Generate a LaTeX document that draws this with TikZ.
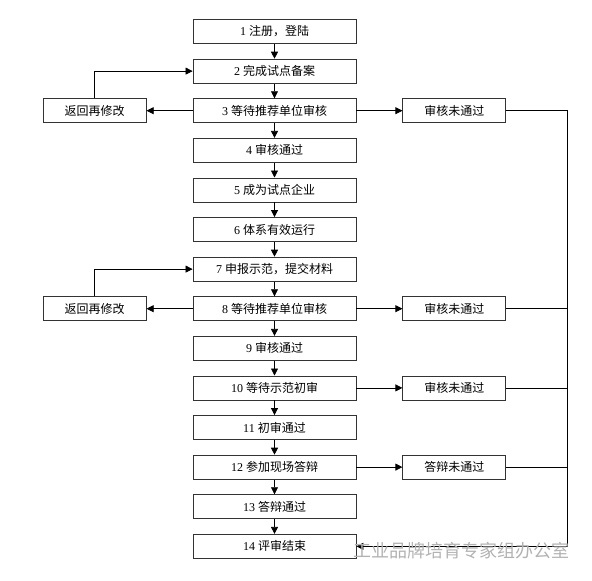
\documentclass[tikz,border=0pt]{standalone}
\usepackage{fontspec}
\setmainfont{Liberation Serif}
\newfontfamily\cjk{Noto Sans CJK SC}
\usetikzlibrary{chains,positioning,arrows.meta}

\begin{document}
\begin{tikzpicture}[x=1pt,y=1pt,
    box/.style={rectangle, draw=black!80, line width=0.8pt, minimum width=163pt,
      minimum height=24pt, inner sep=0pt, font=\fontsize{12}{14}\selectfont},
    side/.style={box, minimum width=103pt},
    >={Triangle[length=7pt,width=7pt]}, line width=0.7pt,
    start chain=going below, node distance=14.8pt and 46pt,
    every join/.style={->}]
  \useasboundingbox (0,0) rectangle (592,-581);
  \node[box,on chain] (s1) at (274.5,-31.5) {1 {\cjk 注册，登陆}};
  \node[box,on chain,join] (s2) {2 {\cjk 完成试点备案}};
  \node[box,on chain,join] (s3) {3 {\cjk 等待推荐单位审核}};
  \node[box,on chain,join] (s4) {4 {\cjk 审核通过}};
  \node[box,on chain,join] (s5) {5 {\cjk 成为试点企业}};
  \node[box,on chain,join] (s6) {6 {\cjk 体系有效运行}};
  \node[box,on chain,join] (s7) {7 {\cjk 申报示范，提交材料}};
  \node[box,on chain,join] (s8) {8 {\cjk 等待推荐单位审核}};
  \node[box,on chain,join] (s9) {9 {\cjk 审核通过}};
  \node[box,on chain,join] (s10) {10 {\cjk 等待示范初审}};
  \node[box,on chain,join] (s11) {11 {\cjk 初审通过}};
  \node[box,on chain,join] (s12) {12 {\cjk 参加现场答辩}};
  \node[box,on chain,join] (s13) {13 {\cjk 答辩通过}};
  \node[box,on chain,join] (s14) {14 {\cjk 评审结束}};
  % back for changes
  \node[side,left=of s3] (back1) {\cjk 返回再修改};
  \node[side,left=of s8] (back2) {\cjk 返回再修改};
  % failed checks
  \node[side,right=of s3] (fail1) {\cjk 审核未通过};
  \node[side,right=of s8] (fail2) {\cjk 审核未通过};
  \node[side,right=of s10] (fail3) {\cjk 审核未通过};
  \node[side,right=of s12] (fail4) {\cjk 答辩未通过};
  \coordinate (bus) at (567,0);
  \draw[->] (s3) -- (back1);
  \draw[->] (back1.north) |- (s2);
  \draw[->] (s8) -- (back2);
  \draw[->] (back2.north) |- (s7);
  \draw[->] (s3) -- (fail1);
  \draw[->] (s8) -- (fail2);
  \draw[->] (s10) -- (fail3);
  \draw[->] (s12) -- (fail4);
  \draw[->] (fail1) -- (fail1 -| bus) |- (s14);
  \draw (fail2) -- (fail2 -| bus);
  \draw (fail3) -- (fail3 -| bus);
  \draw (fail4) -- (fail4 -| bus);
  \node[anchor=east, text=black!30, font=\cjk\fontsize{18}{20}\selectfont]
    (mark) at (573,-551) {工业品牌培育专家组办公室};
\end{tikzpicture}
\end{document}
